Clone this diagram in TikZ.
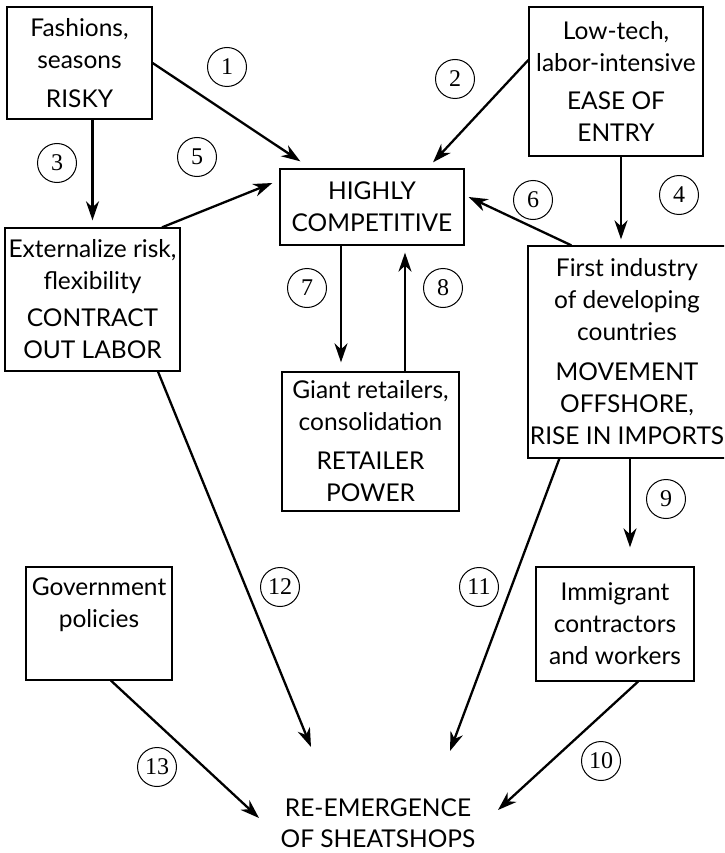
\documentclass[tikz,border=0pt]{standalone}
\usepackage{fontspec}
\setmainfont{Lato}
\newfontfamily\numfont{Liberation Serif}
\usetikzlibrary{arrows.meta,calc}
\tikzset{
  box/.style={draw, line width=1.3pt, rectangle, align=center, inner sep=0pt,
    font=\fontsize{24.5}{32}\selectfont},
  num/.style={draw, circle, line width=1pt, minimum size=39pt, inner sep=0pt,
    font=\numfont\fontsize{24}{24}\selectfont},
  arr/.style={line width=2.3pt, -{Stealth[length=19pt,width=13pt,inset=6pt]}},
}
\begin{document}
\begin{tikzpicture}[x=1pt,y=-1pt]
\useasboundingbox (0,0) rectangle (724,853);
\clip (0,0) rectangle (724,853);
% boxes
\node[box, minimum width=145pt, minimum height=112pt] (A) at (79.5,63) {Fashions,\\seasons\\[7pt]RISKY};
\node[box, minimum width=174pt, minimum height=149pt] (B) at (616,81.5) {Low-tech,\\labor-intensive\\[6pt]EASE OF\\ENTRY};
\node[box, minimum width=184pt, minimum height=76pt] (C) at (372,207) {HIGHLY\\COMPETITIVE};
\node[box, minimum width=175pt, minimum height=143pt] (D) at (92.5,299.5) {Externalize risk,\\flexibility\\[5pt]CONTRACT\\OUT LABOR};
\node[box, minimum width=177pt, minimum height=139pt] (E) at (370.5,441.5) {Giant retailers,\\consolidation\\[7pt]RETAILER\\POWER};
\node[box, minimum width=198pt, minimum height=212pt] (F) at (627,352) {First industry\\of developing\\countries\\[8pt]MOVEMENT\\OFFSHORE,\\RISE IN IMPORTS};
\node[box, minimum width=146pt, minimum height=113pt] (G) at (99,623.5) {Government\\policies\\\strut};
\node[box, minimum width=158pt, minimum height=114pt] (H) at (615,624) {Immigrant\\contractors\\and workers};
\node[align=center, inner sep=0pt, font=\fontsize{24.5}{31}\selectfont] (R) at (378,823) {RE-EMERGENCE\\OF SHEATSHOPS};
% connectors
\draw[arr] (A.east) -- ([xshift=21,yshift=7]C.north west);
\draw[arr] ([yshift=21.5]B.west) -- ([xshift=61,yshift=6]C.north);
\draw[arr] ([xshift=13]A.south) -- ([yshift=7]D.north);
\draw[arr] ([xshift=5]B.south) -- ([xshift=-6,yshift=6]F.north);
\draw[arr] ([xshift=69.5]D.north) -- ([xshift=-7,yshift=24]C.west);
\draw[arr] ([xshift=44]F.north west) -- ([xshift=4,yshift=10]C.east);
\draw[arr] ([xshift=-31]C.south) -- ([xshift=-29.5,yshift=9]E.north);
\draw[arr] ([xshift=34.5]E.north) -- ([xshift=33,yshift=-7]C.south);
\draw[arr] ([xshift=3]F.south) -- ([xshift=15,yshift=19]H.north);
\draw[arr] ([xshift=23]H.south) -- ([xshift=120,yshift=13]R.center);
\draw[arr] ([xshift=32]F.south west) -- ([xshift=72,yshift=72]R.center);
\draw[arr] ([xshift=65.5]D.south) -- ([xshift=-67,yshift=76]R.center);
\draw[arr] ([xshift=12]G.south) -- ([xshift=-119,yshift=5]R.center);
% numbers
\node[num] (n1) at (227,67) {1};
\node[num] (n2) at (455,79) {2};
\node[num] (n3) at (57,163) {3};
\node[num] (n4) at (679,195) {4};
\node[num] (n5) at (197,157) {5};
\node[num] (n6) at (533,200) {6};
\node[num] (n7) at (307,288) {7};
\node[num] (n8) at (443,288) {8};
\node[num] (n9) at (666,499) {9};
\node[num] (n10) at (601,761) {10};
\node[num] (n11) at (479,587) {11};
\node[num] (n12) at (280,587) {12};
\node[num] (n13) at (157,767) {13};
\end{tikzpicture}
\end{document}
